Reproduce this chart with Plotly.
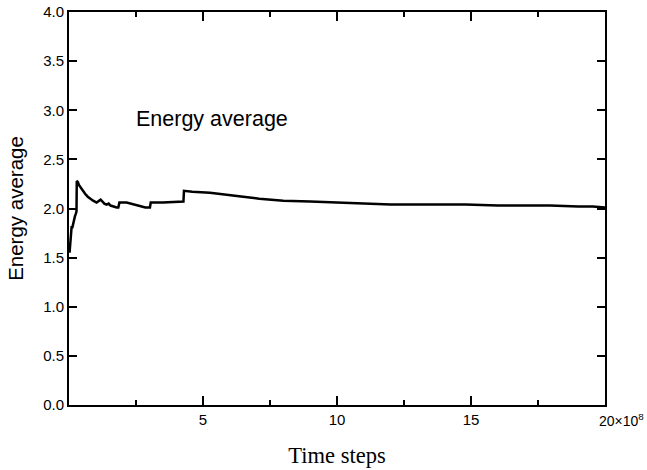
import plotly.graph_objects as go

# Time steps (x 10^8) and running energy average
time_steps = [0.02, 0.04, 0.06, 0.08, 0.10, 0.12, 0.15, 0.18, 0.22, 0.26, 0.28,
              0.29, 0.33, 0.37, 0.42, 0.50, 0.60, 0.70, 0.78, 0.90, 1.03, 1.10,
              1.18, 1.25, 1.32, 1.40, 1.48, 1.55, 1.65, 1.78, 1.84, 1.88, 2.15,
              2.40, 2.65, 2.85, 3.02, 3.05, 3.50, 4.00, 4.27, 4.29, 4.60, 5.26,
              5.80, 6.50, 7.10, 8.00, 9.00, 9.85, 11.10, 12.00, 12.97, 14.00,
              14.80, 16.00, 17.95, 19.00, 19.55, 20.00]
energy_avg = [1.55, 1.62, 1.75, 1.78, 1.82, 1.80, 1.85, 1.88, 1.92, 1.95, 1.97,
              2.28, 2.27, 2.24, 2.22, 2.18, 2.15, 2.12, 2.10, 2.08, 2.06, 2.07,
              2.09, 2.07, 2.05, 2.04, 2.05, 2.03, 2.02, 2.01, 2.01, 2.06, 2.06,
              2.04, 2.02, 2.01, 2.01, 2.06, 2.06, 2.07, 2.07, 2.18, 2.17, 2.16,
              2.14, 2.12, 2.10, 2.08, 2.07, 2.06, 2.05, 2.04, 2.04, 2.04,
              2.04, 2.03, 2.03, 2.02, 2.02, 2.01]

x_tickvals = [0, 5, 10, 15, 20]
x_ticktext = ["", "5", "10", "15", ""]
y_tickvals = [0.0, 0.5, 1.0, 1.5, 2.0, 2.5, 3.0, 3.5, 4.0]

fig = go.Figure()
fig.add_trace(go.Scatter(x=time_steps, y=energy_avg, mode="lines",
                         line=dict(color="black", width=2.5), showlegend=False))

sans = "Liberation Sans, Arial, sans-serif"
serif = "Liberation Serif, Times New Roman, serif"

fig.update_layout(
    width=647, height=470,
    margin=dict(l=69, r=42, t=12, b=65, autoexpand=False),
    paper_bgcolor="white", plot_bgcolor="white",
    font=dict(family=sans, color="black", size=15),
    xaxis=dict(range=[0, 20], tickvals=x_tickvals, ticktext=x_ticktext,
               ticks="inside", ticklen=9, tickwidth=2, tickcolor="black",
               minor=dict(tickvals=[2.5, 7.5, 12.5, 17.5], ticks="inside",
                          ticklen=5, tickwidth=1.5, tickcolor="black"),
               showline=True, linecolor="black", linewidth=2, mirror="ticks",
               showgrid=False, zeroline=False,
               tickfont=dict(family=sans, size=15, color="black"),
               title=dict(text="Time steps",
                          font=dict(family=serif, size=22.5, color="black"),
                          standoff=20)),
    yaxis=dict(range=[0, 4], tickvals=y_tickvals, tickformat=".1f",
               ticks="inside", ticklen=8, tickwidth=2, tickcolor="black",
               showline=True, linecolor="black", linewidth=2, mirror="ticks",
               showgrid=False, zeroline=False,
               tickfont=dict(family=sans, size=15, color="black"),
               title=dict(text="Energy average",
                          font=dict(family=sans, size=20.5, color="black"),
                          standoff=14)),
    annotations=[
        dict(text="Energy average", x=5.34, y=2.91, xref="x", yref="y",
             showarrow=False, font=dict(family=sans, size=21.5, color="black")),
        dict(text="20×10<sup>8</sup>", x=20, y=0, xref="x", yref="paper",
             xanchor="left", yanchor="top", xshift=-8, yshift=-4,
             showarrow=False, font=dict(family=sans, size=14, color="black")),
    ],
)

fig.write_html("out.html", config={"displayModeBar": False},
               post_script="document.body.style.margin='0';")
